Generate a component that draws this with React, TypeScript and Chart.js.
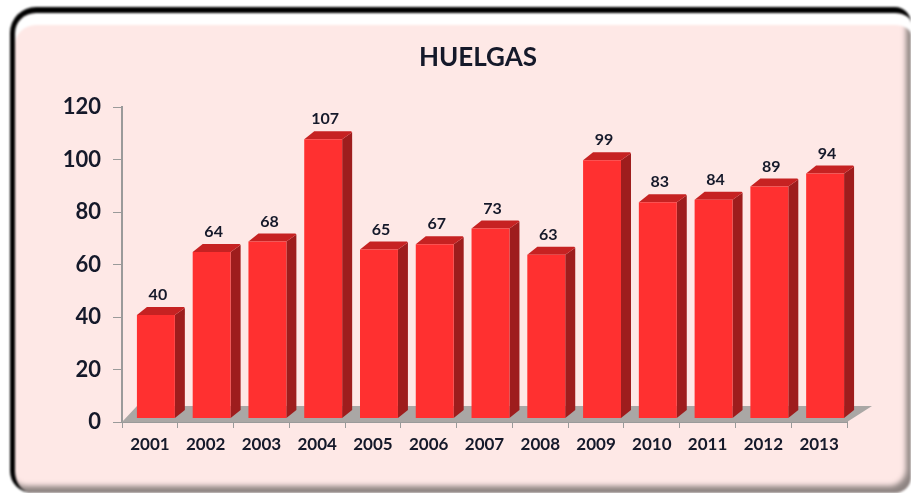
import React, { useEffect, useRef } from "react";
import { Chart, registerables } from "chart.js";

Chart.register(...registerables);

const years = ["2001","2002","2003","2004","2005","2006","2007","2008","2009","2010","2011","2012","2013"];
const huelgas = [40,64,68,107,65,67,73,63,99,83,84,89,94];
const yMax = 120;
const yStep = 20;
const chartTitle = "HUELGAS";

const FONT = "Lato, 'Open Sans', sans-serif";
const INK = "#15192a";
const AXIS = "#9a9a9a";
const DX = 6, DY = -2;       // shift of the front plane of the bars
const SX = 10, SY = -8;      // bar depth
const FX = 25, FY = -16;     // floor depth

const threeD = {
  id: "threeD",
  afterLayout(chart: any) {
    // the title sits over the plot rather than the whole canvas
    const t = chart.titleBlock;
    if (t) t.left += 59;
  },
  beforeDatasetsDraw(chart: any) {
    const { ctx, chartArea: a } = chart;
    const meta = chart.getDatasetMeta(0);
    ctx.save();
    ctx.fillStyle = "#aaa7a5";
    ctx.beginPath();
    ctx.moveTo(a.left, a.bottom);
    ctx.lineTo(a.right, a.bottom);
    ctx.lineTo(a.right + FX, a.bottom + FY);
    ctx.lineTo(a.left + FX - 10, a.bottom + FY);
    ctx.closePath();
    ctx.fill();
    for (const el of meta.data) {
      const l = el.x - el.width / 2 + DX, r = el.x + el.width / 2 + DX;
      const top = el.y + DY, base = el.base + DY;
      ctx.fillStyle = "#9e1d1d";
      ctx.beginPath();
      ctx.moveTo(r, base);
      ctx.lineTo(r + SX, base + SY);
      ctx.lineTo(r + SX, top + SY + 1);
      ctx.lineTo(r, top);
      ctx.closePath();
      ctx.fill();
      ctx.fillStyle = "#c62222";
      ctx.beginPath();
      ctx.moveTo(l, top);
      ctx.lineTo(l + SX, top + SY);
      ctx.lineTo(r + SX - 1, top + SY);
      ctx.lineTo(r + SX, top + SY + 1);
      ctx.lineTo(r, top);
      ctx.closePath();
      ctx.fill();
    }
    ctx.translate(DX, DY);
  },
  afterDatasetsDraw(chart: any) {
    const { ctx } = chart;
    ctx.restore();
    const meta = chart.getDatasetMeta(0);
    ctx.save();
    ctx.font = "bold 16px " + FONT;
    ctx.fillStyle = INK;
    ctx.textAlign = "center";
    ctx.textBaseline = "middle";
    meta.data.forEach((el: any, i: number) => {
      ctx.fillText(String(huelgas[i]), el.x + DX + 2, el.y + DY - 20);
    });
    ctx.restore();
  },
};

export default function App() {
  const ref = useRef<HTMLCanvasElement>(null);
  useEffect(() => {
    const chart = new Chart(ref.current!, {
      type: "bar",
      data: {
        labels: years,
        datasets: [{
          label: "Huelgas",
          data: huelgas,
          base: 0.8,
          backgroundColor: "#ff3030",
          borderWidth: 0,
          barPercentage: 0.68,
          categoryPercentage: 1,
        }],
      },
      plugins: [threeD],
      options: {
        responsive: false,
        animation: false,
        layout: { padding: { top: 42, left: 50, right: 64, bottom: 39 } },
        plugins: {
          legend: { display: false },
          tooltip: { enabled: false },
          title: {
            display: true,
            text: chartTitle,
            color: INK,
            font: { family: FONT, size: 26, weight: "bold" },
            padding: { top: 0, bottom: 34 },
          },
        },
        scales: {
          x: {
            grid: { drawOnChartArea: false, color: AXIS, tickLength: 6, offset: true },
            border: { color: AXIS, width: 2 },
            ticks: { color: INK, font: { family: FONT, size: 17, weight: "bold" }, padding: 6, maxRotation: 0, autoSkip: false },
            afterFit(s: any) { s.height = 32; },
          },
          y: {
            min: 0,
            max: yMax,
            grid: { drawOnChartArea: false, color: AXIS, tickLength: 9 },
            border: { color: AXIS, width: 2 },
            ticks: { stepSize: yStep, color: INK, font: { family: FONT, size: 22, weight: "bold" }, padding: 12 },
            afterFit(s: any) { s.width = 72; },
          },
        },
      } as any,
    });
    return () => chart.destroy();
  }, []);
  return (
    <div style={{ position: "fixed", left: 0, top: 0, width: 911, height: 493, background: "#fff", overflow: "hidden" }}>
      <div
        style={{
          position: "absolute", left: 10, top: 7, right: 0, bottom: 0, boxSizing: "border-box",
          background: "#fee8e6",
          borderLeft: "5px solid #000", borderTop: "6px solid #000",
          borderTopLeftRadius: 26, borderBottomLeftRadius: 22, borderTopRightRadius: 16, borderBottomRightRadius: 16,
          boxShadow: "inset 0 12px 1px 0 #fff, inset -6px -8px 5px -1px #8f8583",
          filter: "blur(0.8px)",
        }}
      />
      <canvas
        ref={ref}
        width={911}
        height={493}
        style={{ position: "absolute", left: 0, top: 0, width: 911, height: 493, filter: "blur(0.7px)" }}
      />
    </div>
  );
}
